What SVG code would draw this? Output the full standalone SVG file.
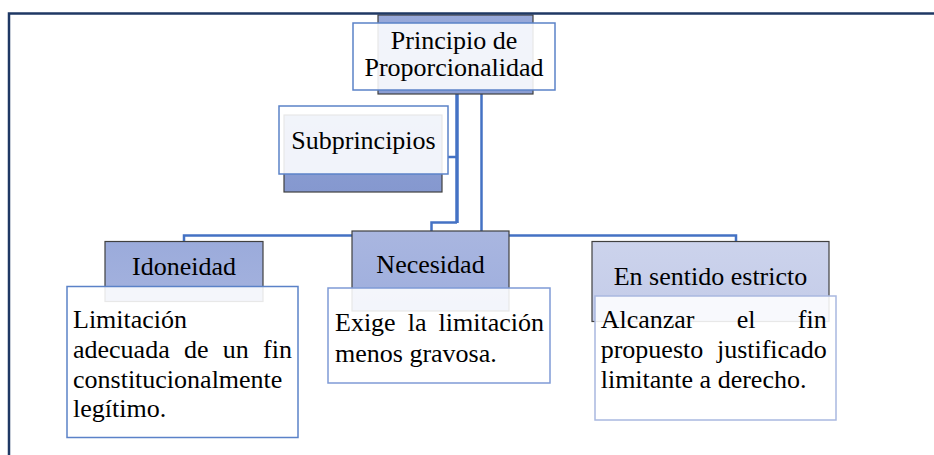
<svg xmlns="http://www.w3.org/2000/svg" width="934" height="455" viewBox="0 0 934 455">
<defs>
<linearGradient id="gTop" x1="0" y1="0" x2="0" y2="1"><stop offset="0" stop-color="#98a9da"/><stop offset="1" stop-color="#8a9dd3"/></linearGradient>
<linearGradient id="gSub" x1="0" y1="0" x2="0" y2="1"><stop offset="0" stop-color="#8fa1d5"/><stop offset="1" stop-color="#8598cf"/></linearGradient>
<linearGradient id="gIdo" x1="0" y1="0" x2="0" y2="1"><stop offset="0" stop-color="#9babdb"/><stop offset="1" stop-color="#a4b2de"/></linearGradient>
<linearGradient id="gNec" x1="0" y1="0" x2="0" y2="1"><stop offset="0" stop-color="#a9b6e0"/><stop offset="1" stop-color="#9eaedd"/></linearGradient>
<linearGradient id="gEst" x1="0" y1="0" x2="0" y2="1"><stop offset="0" stop-color="#ccd3ec"/><stop offset="1" stop-color="#c3cbe8"/></linearGradient>
</defs>
<style>
.back{stroke:#404040;stroke-width:1.2}
.front{fill:#ffffff;fill-opacity:0.88;stroke:#5b82c8;stroke-width:1.5}
.t{font-family:"Liberation Serif","Times New Roman",serif;font-size:26px;fill:#000}
.c{text-anchor:middle}
.e{text-anchor:end}
.con{fill:none;stroke:#4472c4;stroke-width:2.5}
.frame{fill:none;stroke:#1f3864;stroke-width:2.5}
</style>
<rect width="934" height="455" fill="#ffffff"/>
<g id="connectors">
<line class="con" x1="457" y1="94" x2="457" y2="223" style="stroke-width:3.5"/>
<line class="con" x1="481.5" y1="94" x2="481.5" y2="235.5"/>
<line class="con" x1="448" y1="157" x2="457" y2="157"/>
<polyline class="con" points="457,222.5 431.5,222.5 431.5,232"/>
<polyline class="con" points="184,242 184,235.5 736,235.5 736,242"/>
</g>
<g id="node-principio">
<rect class="back" x="378" y="15" width="155" height="79" fill="url(#gTop)"/>
<rect class="front" x="353" y="23" width="202" height="67"/>
<text class="t c" x="454" y="49">Principio de</text>
<text class="t c" x="454" y="76">Proporcionalidad</text>
</g>
<g id="node-subprincipios">
<rect class="back" x="284" y="115" width="158" height="77" fill="url(#gSub)"/>
<rect class="front" x="279" y="106" width="169" height="68"/>
<text class="t c" x="363.5" y="149">Subprincipios</text>
</g>
<g id="node-idoneidad">
<rect class="back" x="105" y="241.5" width="158" height="60" fill="url(#gIdo)"/>
<rect class="front" x="67" y="286.5" width="231" height="151"/>
<text class="t c" x="184" y="275">Idoneidad</text>
<text class="t" x="73" y="328">Limitación</text>
<text class="t" y="358"><tspan x="73">adecuada</tspan><tspan x="184">de</tspan><tspan x="222.8">un</tspan><tspan x="292" text-anchor="end">fin</tspan></text>
<text class="t" x="73" y="387.5">constitucionalmente</text>
<text class="t" x="73" y="417">legítimo.</text>
</g>
<g id="node-necesidad">
<rect class="back" x="352" y="231" width="157" height="80" fill="url(#gNec)"/>
<rect class="front" x="328" y="288" width="222" height="95" style="stroke:#7f9ad6"/>
<text class="t c" x="430.5" y="273">Necesidad</text>
<text class="t" y="331"><tspan x="335">Exige</tspan><tspan x="407.7">la</tspan><tspan x="544" text-anchor="end">limitación</tspan></text>
<text class="t" x="335" y="362">menos gravosa.</text>
</g>
<g id="node-estricto">
<rect class="back" x="592" y="241.5" width="237" height="80" fill="url(#gEst)"/>
<rect class="front" x="595" y="296" width="241" height="124" style="stroke:#a9b8e0"/>
<text class="t c" x="710.5" y="285">En sentido estricto</text>
<text class="t" y="327.5"><tspan x="600.7">Alcanzar</tspan><tspan x="736.7">el</tspan><tspan x="826.7" text-anchor="end">fin</tspan></text>
<text class="t" y="357.5"><tspan x="600.7">propuesto</tspan><tspan x="826.7" text-anchor="end">justificado</tspan></text>
<text class="t" x="600.7" y="387.5">limitante a derecho.</text>
</g>
<g id="frame">
<polyline class="frame" points="9,455 9,13.5 934,13.5"/>
</g>
</svg>
